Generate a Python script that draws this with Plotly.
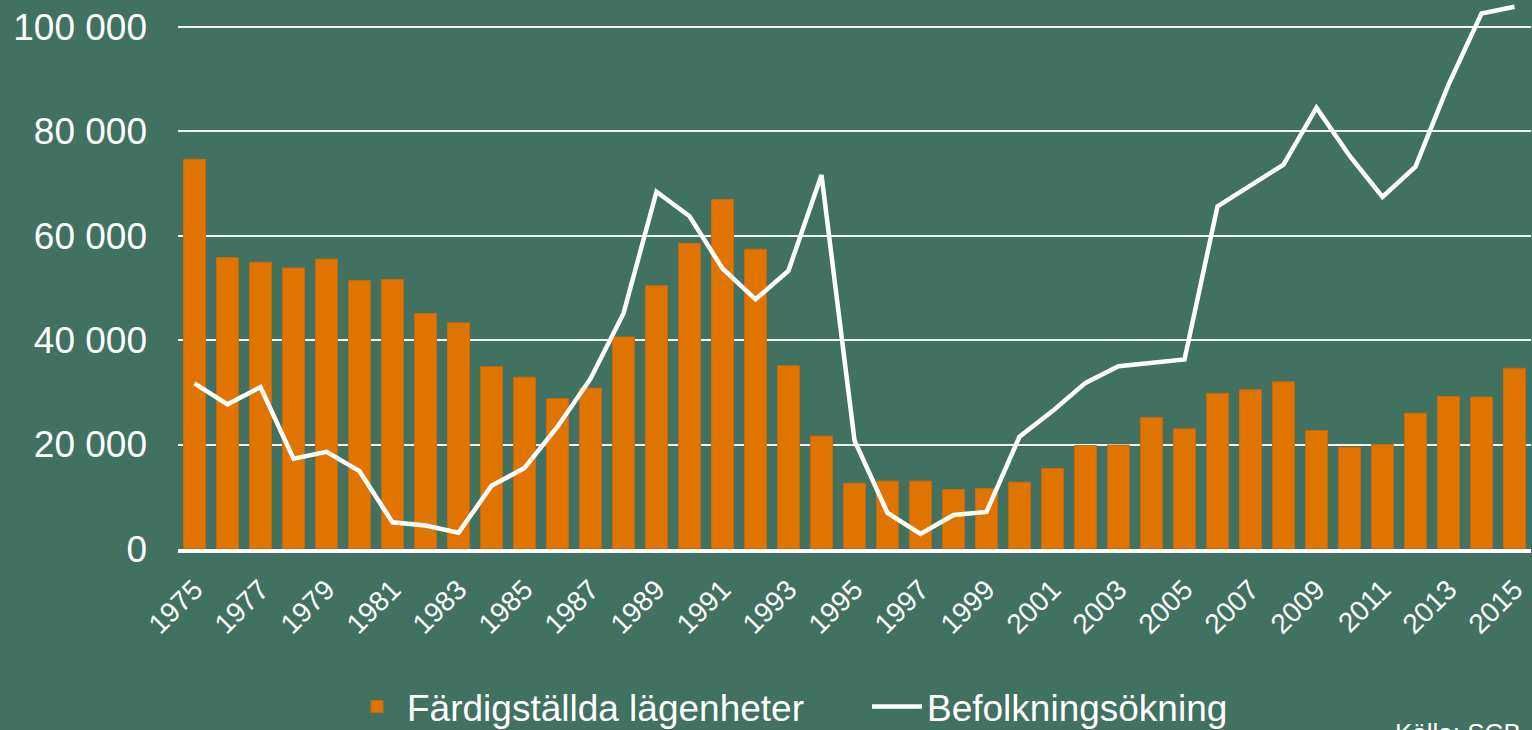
import plotly.graph_objects as go

years = list(range(1975, 2016))
completed_dwellings = [
    74.6, 55.8, 54.9, 53.8, 55.5, 51.4, 51.6, 45.1, 43.3, 34.9,
    32.9, 28.8, 30.8, 40.6, 50.4, 58.5, 66.9, 57.4, 35.1, 21.6,
    12.6, 13.0, 13.0, 11.4, 11.6, 12.8, 15.4, 19.8, 19.9, 25.2,
    23.0, 29.8, 30.5, 32.0, 22.7, 19.5, 20.0, 26.0, 29.2, 29.1,
    34.6,
]
population_increase = [
    31.7, 27.7, 31.0, 17.3, 18.6, 14.9, 5.1, 4.5, 3.1, 12.1,
    15.5, 23.4, 32.6, 45.1, 68.4, 63.7, 53.7, 47.8, 53.3, 71.6,
    20.8, 6.9, 2.9, 6.5, 7.1, 21.5, 26.4, 31.8, 35.0, 35.7,
    36.3, 65.6, 69.7, 73.6, 84.5, 75.3, 67.4, 73.2, 88.9, 102.5,
    103.8,
]
completed_dwellings = [v * 1000 for v in completed_dwellings]
population_increase = [v * 1000 for v in population_increase]

x_tickvals = list(range(1975, 2016, 2))
x_ticktext = [str(y) for y in x_tickvals]
y_tickvals = [0, 20000, 40000, 60000, 80000, 100000]
y_ticktext = ["0", "20 000", "40 000", "60 000", "80 000", "100 000"]

BG = "#417160"
ORANGE = "#E07400"
FONT = "Liberation Sans, Arial, sans-serif"

fig = go.Figure()
fig.add_trace(go.Bar(
    x=years, y=completed_dwellings, name="Färdigställda lägenheter",
    marker=dict(color=ORANGE, line=dict(color="#C9690C", width=1)),
    width=0.67,
))
fig.add_trace(go.Scatter(
    x=years, y=population_increase, name="Befolkningsökning",
    mode="lines", line=dict(color="white", width=4.5),
))

fig.update_layout(
    width=1532, height=730,
    paper_bgcolor=BG, plot_bgcolor=BG,
    margin=dict(l=178, r=1, t=0, b=181, autoexpand=False),
    font=dict(family=FONT, color="white"),
    showlegend=True,
    legend=dict(
        orientation="h", x=(347 - 178) / 1353, xanchor="left",
        y=(549 - 707) / 549, yanchor="middle",
        font=dict(size=37, color="white", family=FONT),
        bgcolor="rgba(0,0,0,0)", itemwidth=50,
        entrywidth=455, entrywidthmode="pixels",
        traceorder="normal",
    ),
    bargap=0.33,
)
fig.update_xaxes(
    range=[1974.5, 2015.5], tickmode="array", tickvals=x_tickvals, ticktext=x_ticktext,
    tickangle=-45, tickfont=dict(size=28, color="white", family=FONT),
    showgrid=False, showline=True, linecolor="white", linewidth=4,
    ticks="", ticklabelstandoff=9, zeroline=False, automargin=False,
)
fig.update_yaxes(
    range=[0, 105100], tickmode="array", tickvals=y_tickvals, ticktext=y_ticktext,
    tickfont=dict(size=37, color="white", family=FONT),
    showgrid=True, gridcolor="rgba(255,255,255,0.95)", gridwidth=1.8,
    zeroline=False, showline=False, ticks="", ticklabelstandoff=30, automargin=False,
)
fig.add_annotation(
    text="Källa: SCB", xref="paper", yref="paper",
    x=(1393 - 178) / 1353, xanchor="left",
    y=(549 - 716) / 549, yanchor="top",
    showarrow=False, font=dict(size=26, color="white", family=FONT),
)
fig.write_html(
    "out.html",
    config={"displayModeBar": False},
    post_script="document.body.style.margin='0';document.body.style.overflow='hidden';",
)
